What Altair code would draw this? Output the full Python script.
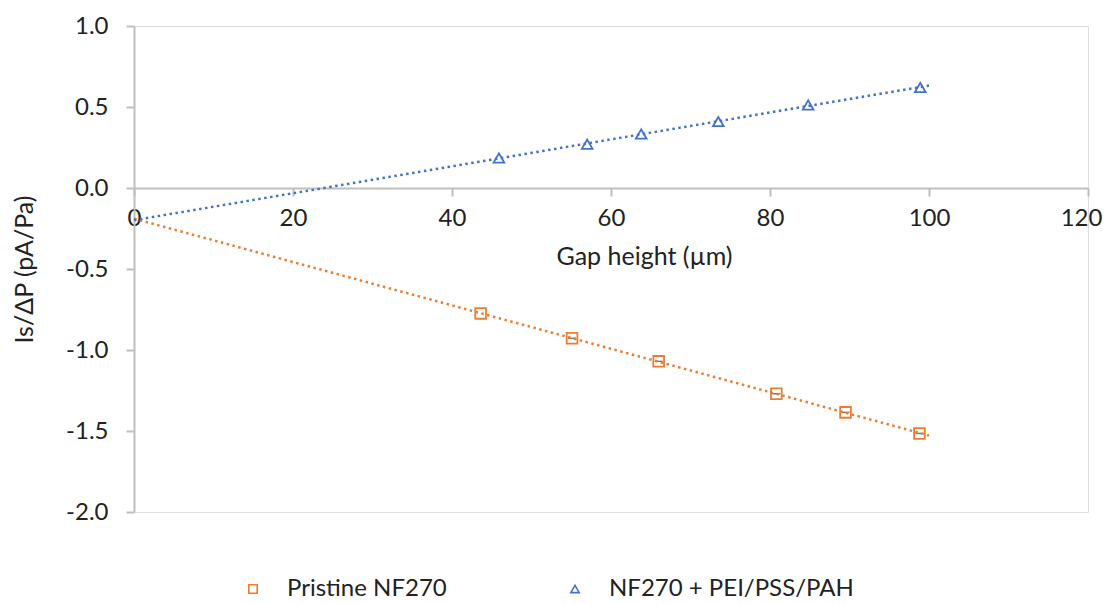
import altair as alt
import pandas as pd

# ---- data ----
series_names = ["Pristine NF270", "NF270 + PEI/PSS/PAH"]
series_colors = ["#ED7D31", "#4472C4"]
series_shapes = ["square", "triangle-up"]

gap_pristine = [43.6, 55.1, 66.0, 80.8, 89.5, 98.8]
is_pristine = [-0.774, -0.928, -1.07, -1.27, -1.385, -1.515]
errbar_pristine = [False, True, True, True, True, True]

gap_coated = [45.9, 57.0, 63.8, 73.5, 84.8, 98.9]
is_coated = [0.185, 0.27, 0.333, 0.41, 0.512, 0.62]
errbar_coated = [False, False, False, False, False, False]

x_ticks = [0, 20, 40, 60, 80, 100, 120]
y_ticks = [1.0, 0.5, 0.0, -0.5, -1.0, -1.5, -2.0]

df = pd.DataFrame({
    "gap": gap_pristine + gap_coated,
    "val": is_pristine + is_coated,
    "series": [series_names[0]] * len(gap_pristine) + [series_names[1]] * len(gap_coated),
    "err": errbar_pristine + errbar_coated,
})

FONT = "Lato"
TXT = "#222222"
AX = "#bfbfbf"
W, H = 954, 486
LBL = 24
TTL = 25

x_enc = alt.X(
    "gap:Q",
    scale=alt.Scale(domain=[0, 120], nice=False, zero=False),
    axis=alt.Axis(
        values=x_ticks, title="Gap height (µm)", offset=-324, grid=False,
        labelFlush=False, labelOverlap=False,
        labelOffset={"condition": {"test": "datum.value >= 120", "value": -7}, "value": 0},
        domainColor=AX, domainWidth=2, tickColor=AX, tickWidth=2, tickSize=8,
        labelFont=FONT, labelFontSize=LBL, labelColor=TXT, labelPadding=10,
        titleFont=FONT, titleFontSize=TTL, titleFontWeight="normal", titleColor=TXT,
        titleX=510, titleY=68, titleBaseline="middle", titleAlign="center",
    ),
)
y_enc = alt.Y(
    "val:Q",
    scale=alt.Scale(domain=[-2.0, 1.0], nice=False, zero=False),
    axis=alt.Axis(
        values=y_ticks, title="Is/ΔP (pA/Pa)", grid=False,
        labelFlush=False, labelOverlap=False,
        labelExpr="datum.value < 0 ? '-' + format(-datum.value, '.1f') : format(datum.value, '.1f')",
        domainColor=AX, domainWidth=2, tickColor=AX, tickWidth=2, tickSize=8,
        labelFont=FONT, labelFontSize=LBL, labelColor=TXT, labelPadding=18,
        titleFont=FONT, titleFontSize=TTL, titleFontWeight="normal", titleColor=TXT,
        titleX=-110, titleY=243, titleBaseline="middle", titleAlign="center", titleAngle=270,
    ),
)

points = alt.Chart(df).mark_point(filled=False, size=115, strokeWidth=1.8, opacity=1).encode(
    x=x_enc,
    y=y_enc,
    color=alt.Color(
        "series:N",
        scale=alt.Scale(domain=series_names, range=series_colors),
        legend=alt.Legend(
            orient="none", legendX=107, legendY=551, direction="horizontal", title=None,
            labelFont=FONT, labelFontSize=LBL, labelColor=TXT, labelOffset=22, labelLimit=500,
            symbolSize=70, symbolStrokeWidth=1.6, columnPadding=31, gridAlign="all", padding=0,
        ),
    ),
    shape=alt.Shape("series:N", scale=alt.Scale(domain=series_names, range=series_shapes)),
)

ticks = alt.Chart(df).transform_filter("datum.err").mark_tick(
    orient="horizontal", color="#404040", size=8, thickness=1.5
).encode(x="gap:Q", y="val:Q")

def trend(name, color):
    return alt.Chart(df).transform_filter(
        alt.datum.series == name
    ).transform_regression("gap", "val", extent=[0, 100]).mark_line(
        color=color, strokeDash=[2.5, 3.5], strokeWidth=2.5
    ).encode(x="gap:Q", y="val:Q")

chart = alt.layer(
    points, ticks, trend(series_names[0], series_colors[0]), trend(series_names[1], series_colors[1])
).properties(
    width=W, height=H,
    padding={"left": 126, "top": 18, "right": 15, "bottom": 91},
    autosize=alt.AutoSizeParams(type="none"),
).configure_view(stroke=None).configure(font=FONT)

chart.save("out.html", embed_options={"renderer": "svg", "actions": False})
